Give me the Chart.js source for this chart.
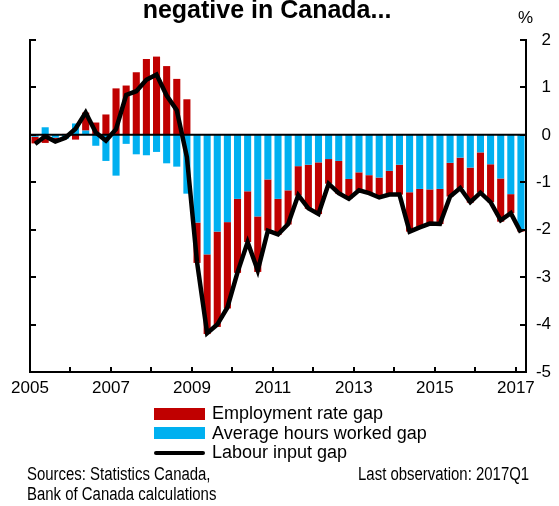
<!DOCTYPE html>
<html>
<head>
<meta charset="utf-8">
<script src="https://cdn.jsdelivr.net/npm/chart.js@4.4.1/dist/chart.umd.min.js"></script>
<style>
    body { margin: 0; background: #fff; overflow: hidden; }
    #wrap { position: relative; width: 559px; height: 506px; font-family: "Liberation Sans", Arial, sans-serif; color: #000; }
    #chartBox { position: absolute; left: 0; top: 0; width: 559px; height: 506px; }
    #title { position: absolute; left: 0; width: 534px; top: -3px; text-align: center; font-weight: bold; font-size: 25px; line-height: 25px; }
    #unit { position: absolute; left: 518px; top: 9px; font-size: 17px; line-height: 17px; }
    #legend { position: absolute; left: 154px; top: 404px; font-size: 18px; }
    .row { height: 19.5px; line-height: 19.5px; display: flex; align-items: center; white-space: nowrap; }
    .swatch { display: inline-block; width: 51px; height: 12px; margin-right: 7px; }
    .lineSwatch { display: inline-block; width: 51px; height: 4px; border-radius: 2px; margin-right: 7px; }
    .note { position: absolute; font-size: 18px; line-height: 19.5px; white-space: nowrap; transform: scaleX(0.83); }
</style>
</head>
<body>
<div id="wrap">
    <div id="chartBox"><canvas id="gapChart"></canvas></div>
    <div id="title">negative in Canada...</div>
    <div id="unit">%</div>
    <div id="legend"></div>
    <div class="note" style="left:27px; top:465px; transform-origin:left top;">Sources: Statistics Canada,<br>Bank of Canada calculations</div>
    <div class="note" style="right:30px; top:465px; transform-origin:right top;">Last observation: 2017Q1</div>
</div>
<script>
// quarterly, 2005Q1 to 2017Q1
const quarters = [
    '2005Q1','2005Q2','2005Q3','2005Q4','2006Q1','2006Q2','2006Q3','2006Q4',
    '2007Q1','2007Q2','2007Q3','2007Q4','2008Q1','2008Q2','2008Q3','2008Q4',
    '2009Q1','2009Q2','2009Q3','2009Q4','2010Q1','2010Q2','2010Q3','2010Q4',
    '2011Q1','2011Q2','2011Q3','2011Q4','2012Q1','2012Q2','2012Q3','2012Q4',
    '2013Q1','2013Q2','2013Q3','2013Q4','2014Q1','2014Q2','2014Q3','2014Q4',
    '2015Q1','2015Q2','2015Q3','2015Q4','2016Q1','2016Q2','2016Q3','2016Q4',
    '2017Q1'
];
const yearLabels = ['2005', '2007', '2009', '2011', '2013', '2015', '2017'];

const employmentGap = [
    -0.14, -0.17, -0.09, 0.02, -0.10, 0.38, 0.26, 0.43,
    0.98, 1.04, 1.32, 1.60, 1.65, 1.45, 1.18, 0.75,
    -0.85, -1.68, -2.01, -1.82, -1.56, -1.07, -1.17, -1.08,
    -0.76, -0.72, -0.62, -0.93, -1.09, -0.52, -0.69, -0.42,
    -0.38, -0.38, -0.43, -0.50, -0.63, -0.83, -0.81, -0.72,
    -0.74, -0.71, -0.64, -0.74, -0.85, -0.80, -0.91, -0.40,
    -0.05
];
const hoursGap = [
    -0.04, 0.16, -0.06, -0.08, 0.24, 0.09, -0.23, -0.55,
    -0.86, -0.19, -0.41, -0.43, -0.36, -0.60, -0.67, -1.24,
    -1.85, -2.52, -2.04, -1.84, -1.35, -1.19, -1.72, -0.94,
    -1.35, -1.17, -0.66, -0.63, -0.58, -0.51, -0.55, -0.93,
    -0.79, -0.85, -0.90, -0.76, -0.63, -1.21, -1.14, -1.15,
    -1.14, -0.59, -0.48, -0.69, -0.37, -0.62, -0.92, -1.25,
    -1.99
];
const labourGap = [
    -0.19, -0.03, -0.14, -0.06, 0.13, 0.47, 0.05, -0.12,
    0.12, 0.84, 0.92, 1.16, 1.27, 0.83, 0.52, -0.47,
    -2.68, -4.18, -4.00, -3.64, -2.90, -2.26, -2.86, -2.02,
    -2.10, -1.88, -1.27, -1.55, -1.67, -1.03, -1.23, -1.35,
    -1.17, -1.23, -1.32, -1.26, -1.26, -2.04, -1.95, -1.87,
    -1.88, -1.30, -1.12, -1.42, -1.22, -1.42, -1.80, -1.65,
    -2.06
];

const tickFont = { family: "'Liberation Sans', Arial, sans-serif", size: 17 };

// zero line under the black line, inward ticks on the frame
const frameLines = {
    id: 'frameLines',
    beforeDatasetDraw(chart, args) {
        if (args.index !== 2) return;
        const { ctx, chartArea } = chart;
        const y0 = chart.scales.y.getPixelForValue(0);
        ctx.save();
        ctx.strokeStyle = '#000';
        ctx.lineWidth = 2;
        ctx.beginPath();
        ctx.moveTo(chartArea.left, y0);
        ctx.lineTo(chartArea.right, y0);
        ctx.stroke();
        ctx.restore();
    },
    afterDraw(chart) {
        const { ctx, chartArea } = chart;
        const yScale = chart.scales.y;
        const xScale = chart.scales.xt;
        ctx.save();
        ctx.strokeStyle = '#000';
        ctx.lineWidth = 2;
        ctx.beginPath();
        ctx.moveTo(chartArea.left, chartArea.top - 1);
        ctx.lineTo(chartArea.left, chartArea.bottom);
        yScale.ticks.forEach(t => {
            const y = Math.round(yScale.getPixelForValue(t.value));
            ctx.moveTo(chartArea.left, y);
            ctx.lineTo(chartArea.left + 6, y);
            ctx.moveTo(chartArea.right, y);
            ctx.lineTo(chartArea.right - 6, y);
        });
        xScale.ticks.forEach(t => {
            const x = Math.round(xScale.getPixelForValue(t.value));
            ctx.moveTo(x, chartArea.bottom);
            ctx.lineTo(x, chartArea.bottom - 5);
        });
        ctx.stroke();
        ctx.restore();
    }
};

function renderLegend(chart) {
    const legendDiv = document.getElementById('legend');
    legendDiv.innerHTML = chart.data.datasets.map(ds => {
        const mark = ds.type === 'line'
            ? `<span class="lineSwatch" style="background:${ds.borderColor}"></span>`
            : `<span class="swatch" style="background:${ds.backgroundColor}"></span>`;
        return `<div class="row">${mark}${ds.label}</div>`;
    }).join('');
}

const ctx = document.getElementById('gapChart').getContext('2d');
const gapChart = new Chart(ctx, {
    data: {
        labels: quarters,
        datasets: [
            {
                type: 'bar',
                label: 'Employment rate gap',
                data: employmentGap,
                backgroundColor: '#C00000',
                stack: 'gaps',
                order: 2,
                categoryPercentage: 1,
                barPercentage: 0.7
            },
            {
                type: 'bar',
                label: 'Average hours worked gap',
                data: hoursGap,
                backgroundColor: '#00B0F0',
                stack: 'gaps',
                order: 1,
                categoryPercentage: 1,
                barPercentage: 0.7
            },
            {
                type: 'line',
                label: 'Labour input gap',
                data: labourGap,
                borderColor: '#000',
                borderWidth: 4.5,
                pointRadius: 0,
                tension: 0,
                stack: 'line',
                order: 0
            }
        ]
    },
    options: {
        responsive: true,
        maintainAspectRatio: false,
        animation: false,
        layout: { padding: { top: 40, left: 30, right: 8, bottom: 104 } },
        plugins: {
            legend: { display: false },
            tooltip: { enabled: false },
            title: { display: false }
        },
        scales: {
            x: {
                type: 'category',
                display: false,
                stacked: true,
                offset: true
            },
            xt: {
                type: 'linear',
                position: 'bottom',
                min: 0,
                max: quarters.length,
                grid: { display: false, drawTicks: false },
                border: { display: true, color: '#000', width: 2 },
                ticks: {
                    stepSize: 4,
                    includeBounds: false,
                    autoSkip: false,
                    maxRotation: 0,
                    padding: 6,
                    color: '#000',
                    font: tickFont,
                    callback: value => (value % 8 === 0 ? yearLabels[value / 8] : '')
                },
                afterFit(scale) { scale.height = 30; }
            },
            y: {
                type: 'linear',
                position: 'right',
                stacked: true,
                min: -5,
                max: 2,
                grid: { display: false, drawTicks: false },
                border: { display: true, color: '#000', width: 2 },
                ticks: {
                    stepSize: 1,
                    color: '#000',
                    font: tickFont,
                    crossAlign: 'far',
                    padding: 0
                },
                afterFit(scale) { scale.width = 25; }
            }
        }
    },
    plugins: [frameLines]
});

renderLegend(gapChart);
</script>
</body>
</html>
